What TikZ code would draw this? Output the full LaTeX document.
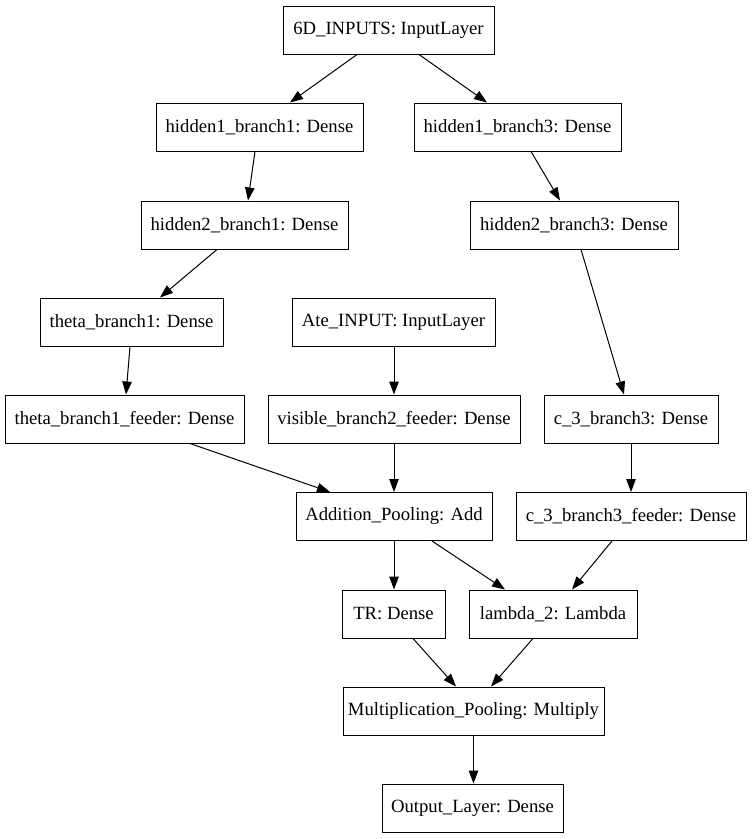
\documentclass[tikz,border=0pt]{standalone}
\usepackage{fontspec}
\setmainfont{Liberation Serif}
\newfontfamily\tnr{Liberation Serif}
\usetikzlibrary{arrows.meta}
\begin{document}
\begin{tikzpicture}[x=1pt,y=1pt,
  box/.style={draw, line width=1pt, minimum height=48pt, inner sep=0pt,
    font=\tnr\fontsize{18.67}{22}\selectfont},
  arr/.style={line width=1pt, -{Triangle[length=13pt,width=9.5pt]}}]
\useasboundingbox[fill=white] (0,0) rectangle (752,-839);
\node[box, minimum width=211pt] (sixd) at (388.5,-30) {6D\_INPUTS: InputLayer};
\node[box, minimum width=207pt] (h1b1) at (259.5,-127) {hidden1\_branch1: Dense};
\node[box, minimum width=207pt] (h1b3) at (517.5,-127) {hidden1\_branch3: Dense};
\node[box, minimum width=207pt] (h2b1) at (244.5,-225) {hidden2\_branch1: Dense};
\node[box, minimum width=208pt] (h2b3) at (574,-225) {hidden2\_branch3: Dense};
\node[box, minimum width=183pt] (theta) at (131.5,-322) {theta\_branch1: Dense};
\node[box, minimum width=203pt] (ate) at (393.5,-322) {Ate\_INPUT: InputLayer};
\node[box, minimum width=239pt] (feeder) at (124.5,-419) {theta\_branch1\_feeder: Dense};
\node[box, minimum width=252pt] (visible) at (394,-419) {visible\_branch2\_feeder: Dense};
\node[box, minimum width=174pt] (c3) at (631,-419) {c\_3\_branch3: Dense};
\node[box, minimum width=196pt] (add) at (394,-516.5) {Addition\_Pooling: Add};
\node[box, minimum width=230pt] (c3f) at (631,-516.5) {c\_3\_branch3\_feeder: Dense};
\node[box, minimum width=103pt] (tr) at (393.5,-614) {TR: Dense};
\node[box, minimum width=168pt] (lam) at (553,-614) {lambda\_2: Lambda};
\node[box, minimum width=261pt] (mult) at (473.5,-711) {Multiplication\_Pooling: Multiply};
\node[box, minimum width=181pt] (out) at (472.5,-808) {Output\_Layer: Dense};

\draw[arr] ([xshift=-31.5pt]sixd.south) -- ([xshift=30.5pt]h1b1.north);
\draw[arr] ([xshift=30.5pt]sixd.south) -- ([xshift=-30.5pt]h1b3.north);
\draw[arr] ([xshift=-4.5pt]h1b1.south) -- ([xshift=3.5pt]h2b1.north);
\draw[arr] ([xshift=13.5pt]h1b3.south) -- ([xshift=-14pt]h2b3.north);
\draw[arr] ([xshift=-27.5pt]h2b1.south) -- ([xshift=28.5pt]theta.north);
\draw[arr] ([xshift=7pt]h2b3.south) -- ([xshift=-7pt]c3.north);
\draw[arr] ([xshift=-1.5pt]theta.south) -- ([xshift=1.5pt]feeder.north);
\draw[arr] ([xshift=0.5pt]ate.south) -- (visible.north);
\draw[arr] ([xshift=65.5pt]feeder.south) -- ([xshift=-64pt]add.north);
\draw[arr] (visible.south) -- (add.north);
\draw[arr] (c3.south) -- (c3f.north);
\draw[arr] (add.south) -- ([xshift=0.5pt]tr.north);
\draw[arr] ([xshift=38pt]add.south) -- ([xshift=-48pt]lam.north);
\draw[arr] ([xshift=-19pt]c3f.south) -- ([xshift=19pt]lam.north);
\draw[arr] ([xshift=19.5pt]tr.south) -- ([xshift=-17.5pt]mult.north);
\draw[arr] ([xshift=-20pt]lam.south) -- ([xshift=17.5pt]mult.north);
\draw[arr] (mult.south) -- ([xshift=1pt]out.north);
\end{tikzpicture}
\end{document}
